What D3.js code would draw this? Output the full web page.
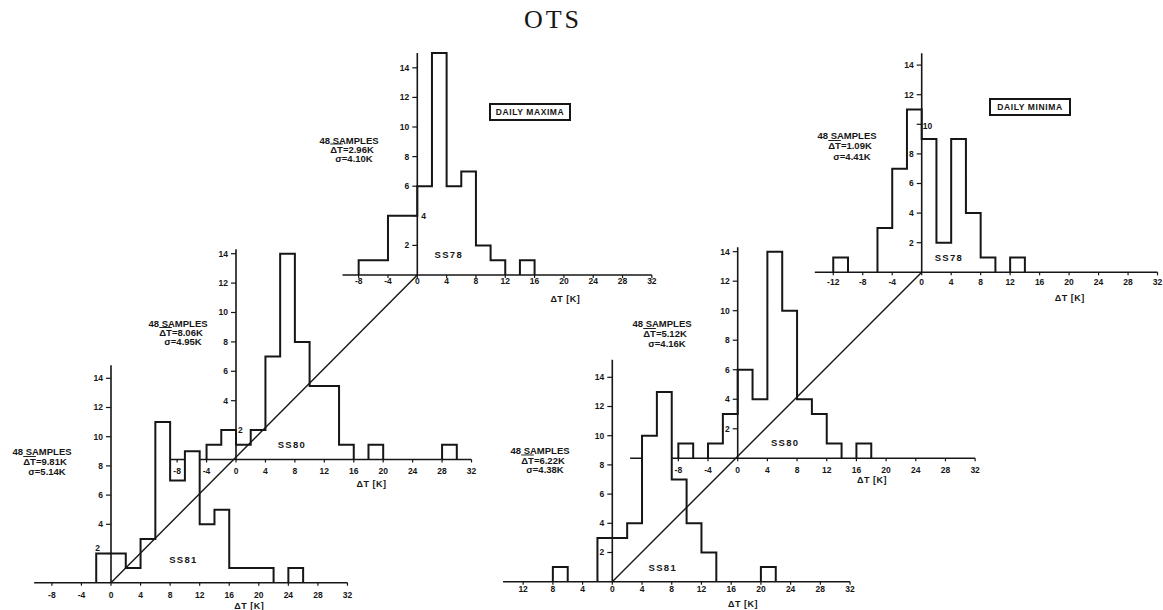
<!DOCTYPE html>
<html>
<head>
<meta charset="utf-8">
<script src="https://cdn.jsdelivr.net/npm/d3@7"></script>
<style>
  body { margin: 0; background: #fff; }
  text { font-family: 'Liberation Sans', Arial, sans-serif; font-weight: bold; fill: #161616; }
</style>
</head>
<body>
<svg id="chart" width="1163" height="610"></svg>
<script>
// histogram counts, bins 2 K wide
const binWidth = 2

// daily maxima
const maxSS78Start = -8
const maxSS78 = [1, 1, 4, 4, 6, 15, 6, 7, 2, 1, 0, 1]
const maxSS80Start = -4
const maxSS80 = [1, 2, 1, 2, 7, 14, 8, 5, 5, 1, 0, 1, 0, 0, 0, 0, 1]
const maxSS81Start = -2
const maxSS81 = [2, 2, 1, 3, 11, 7, 9, 4, 5, 1, 1, 1, 0, 1]

// daily minima
const minSS78Start = -12
const minSS78 = [1, 0, 0, 3, 7, 11, 9, 2, 9, 4, 1, 0, 1]
const minSS80Start = -8
const minSS80 = [1, 0, 1, 3, 6, 4, 14, 10, 4, 3, 1, 0, 1]
const minSS81Start = -8
const minSS81 = [1, 0, 0, 3, 3, 4, 10, 13, 7, 4, 2, 0, 0, 0, 1]

const panelNames = ['SS78', 'SS80', 'SS81']
const maxStats = [
    ['48 SAMPLES', '2.96', '4.10'],
    ['48 SAMPLES', '8.06', '4.95'],
    ['48 SAMPLES', '9.81', '5.14']
]
const minStats = [
    ['48 SAMPLES', '1.09', '4.41'],
    ['48 SAMPLES', '5.12', '4.16'],
    ['48 SAMPLES', '6.22', '4.38']
]
const xTicks = [-8, -4, 0, 4, 8, 12, 16, 20, 24, 28, 32]
const xTicksWide = [-12, -8, -4, 0, 4, 8, 12, 16, 20, 24, 28, 32]
const yTicks = [2, 4, 6, 8, 10, 12, 14]

// layout of each small histogram (pixel placement, not data)
const maxLayout = [
    { ox: 417.3, oy: 275, kx: 7.33, ky: 14.8, xFrom: -10.2, yTop: 15, tickY: 9, dtX: 20.2, dtY: 27, nameX: 4.3, nameY: 1.4, sx: 349, sy: 143.5, lineGap: 9, special: { v: 4, side: 'right', dx: 4, dy: 0 } },
    { ox: 236, oy: 459.5, kx: 7.36, ky: 14.7, xFrom: -11, yTop: 14.3, tickY: 14, dtX: 18.4, dtY: 27.5, nameX: 7.6, nameY: 1.0, sx: 178, sy: 327, lineGap: 9, special: { v: 2, side: 'right', dx: 2, dy: 0 } },
    { ox: 111, oy: 582.7, kx: 7.39, ky: 14.6, xFrom: -10.4, yTop: 14.9, tickY: 15.5, dtX: 18.7, dtY: 26.3, nameX: 9.8, nameY: 1.55, sx: 42, sy: 455, lineGap: 10, special: { v: 2, side: 'left', dx: -11, dy: -5.5 } }
]
const minLayout = [
    { ox: 921.7, oy: 272.3, kx: 7.37, ky: 14.8, xFrom: -14.5, yTop: 14.8, tickY: 12.7, dtX: 20.1, dtY: 28.7, nameX: 3.7, nameY: 1.0, sx: 847, sy: 138.5, lineGap: 10.5, special: { v: 10, side: 'right', dx: 1, dy: 2 } },
    { ox: 737.7, oy: 458.3, kx: 7.42, ky: 14.76, xFrom: -14.5, yTop: 14.3, tickY: 15, dtX: 18.1, dtY: 25, nameX: 6.4, nameY: 1.05, sx: 662, sy: 327, lineGap: 10, special: null },
    { ox: 612.3, oy: 581.7, kx: 7.43, ky: 14.6, xFrom: -14.7, yTop: 15.2, tickY: 10, dtX: 17.6, dtY: 25.3, nameX: 6.8, nameY: 0.95, sx: 540, sy: 454, lineGap: 9.5, special: null }
]

const svg = d3.select('#chart')
const ink = '#161616'

// 标题
svg.append('text')
    .text('OTS')
    .attr('x', 553)
    .attr('y', 28)
    .attr('text-anchor', 'middle')
    .style('font-family', "'Liberation Serif', 'DejaVu Serif', serif")
    .style('font-weight', 'normal')
    .style('font-size', '26px')
    .style('letter-spacing', '3px')

// split counts into runs of non-empty bins -> step outline points
function stepRuns(counts, start) {
    const out = []
    let cur = null
    counts.forEach((c, i) => {
        const x0 = start + i * binWidth
        if (c > 0) {
            if (!cur) {
                cur = [[x0, 0]]
                out.push(cur)
            }
            cur.push([x0, c], [x0 + binWidth, c])
        } else if (cur) {
            cur.push([x0, 0])
            cur = null
        }
    })
    if (cur) cur.push([start + counts.length * binWidth, 0])
    return out
}

function drawPanel(p, counts, start, ticks, name, stats, fmt) {
    const x = d3.scaleLinear().domain([0, 1]).range([p.ox, p.ox + p.kx])
    const y = d3.scaleLinear().domain([0, 1]).range([p.oy, p.oy - p.ky])
    const g = svg.append('g')
    const line = d3.line().x((d) => x(d[0])).y((d) => y(d[1]))
    const runs = stepRuns(counts, start)

    // white fill hides whatever lies behind this panel
    g.selectAll('.fill').data(runs).enter()
        .append('path')
        .attr('d', (d) => line(d) + 'Z')
        .attr('fill', '#fff')
        .attr('stroke', 'none')

    // x axis
    g.append('line')
        .attr('x1', x(p.xFrom)).attr('x2', x(32))
        .attr('y1', y(0)).attr('y2', y(0))
        .attr('stroke', ink).attr('stroke-width', 1.6)
    g.selectAll('.xt').data(ticks).enter()
        .append('line')
        .attr('x1', (d) => x(d)).attr('x2', (d) => x(d))
        .attr('y1', y(0)).attr('y2', y(0) + 3)
        .attr('stroke', ink).attr('stroke-width', 1.2)
    g.selectAll('.xl').data(ticks).enter()
        .append('text')
        .text(fmt)
        .attr('x', (d) => x(d))
        .attr('y', y(0) + p.tickY)
        .attr('text-anchor', 'middle')
        .style('font-size', '8.5px')
    g.append('text')
        .text('ΔT [K]')
        .attr('x', x(p.dtX))
        .attr('y', y(0) + p.dtY)
        .attr('text-anchor', 'middle')
        .style('font-size', '9px')
        .style('letter-spacing', '0.5px')

    // y axis
    g.append('line')
        .attr('x1', x(0)).attr('x2', x(0))
        .attr('y1', y(0)).attr('y2', y(p.yTop))
        .attr('stroke', ink).attr('stroke-width', 1.6)
    g.selectAll('.yt').data(yTicks).enter()
        .append('line')
        .attr('x1', x(0) - 5).attr('x2', x(0))
        .attr('y1', (d) => y(d)).attr('y2', (d) => y(d))
        .attr('stroke', ink).attr('stroke-width', 1.2)
    g.selectAll('.yl').data(yTicks).enter()
        .append('text')
        .text((d) => d)
        .attr('x', (d) => {
            if (p.special && p.special.v === d) return x(0) + p.special.dx
            return x(0) - 8
        })
        .attr('y', (d) => (p.special && p.special.v === d ? y(d) + p.special.dy : y(d)))
        .attr('dy', '0.35em')
        .attr('text-anchor', (d) => (p.special && p.special.v === d && p.special.side === 'right' ? 'start' : 'end'))
        .style('font-size', '8.5px')

    // outline
    g.selectAll('.bar').data(runs).enter()
        .append('path')
        .attr('d', line)
        .attr('fill', 'none')
        .attr('stroke', ink)
        .attr('stroke-width', 2)
        .attr('stroke-linejoin', 'miter')

    // station name
    g.append('text')
        .text(name)
        .attr('x', x(p.nameX))
        .attr('y', y(p.nameY))
        .attr('dy', '0.35em')
        .attr('text-anchor', 'middle')
        .style('font-size', '9.5px')
        .style('letter-spacing', '1.3px')

    // samples / mean / sigma
    const st = svg.append('g').attr('transform', `translate(${p.sx},${p.sy})`)
    st.append('text').text(stats[0]).attr('text-anchor', 'middle').style('font-size', '9.5px')
    const t2 = st.append('text').attr('y', p.lineGap).attr('x', 3).attr('text-anchor', 'middle').style('font-size', '9.5px')
    t2.append('tspan').text('ΔT').style('text-decoration', 'overline')
    t2.append('tspan').text(`=${stats[1]}K`)
    st.append('text').text(`σ=${stats[2]}K`).attr('x', 5).attr('y', p.lineGap * 2).attr('text-anchor', 'middle').style('font-size', '9.5px')

    return { x, y }
}

function drawChart(layout, series, starts, tickSets, stats, fmts, boxText, box) {
    const origins = []
    // back to front
    layout.forEach((p, i) => {
        const s = drawPanel(p, series[i], starts[i], tickSets[i], panelNames[i], stats[i], fmts[i])
        origins.push([s.x(0), s.y(0)])
    })
    // diagonal through the three origins
    svg.append('line')
        .attr('x1', origins[2][0]).attr('y1', origins[2][1])
        .attr('x2', origins[0][0]).attr('y2', origins[0][1])
        .attr('stroke', ink).attr('stroke-width', 1.4)

    const bg = svg.append('g').attr('transform', `translate(${box[0]},${box[1]})`)
    bg.append('rect').attr('width', box[2]).attr('height', box[3])
        .attr('fill', '#fff').attr('stroke', ink).attr('stroke-width', 2)
    bg.append('text').text(boxText)
        .attr('x', box[2] / 2).attr('y', box[3] / 2).attr('dy', '0.36em')
        .attr('text-anchor', 'middle')
        .style('font-size', '8.5px')
        .style('letter-spacing', '0.6px')
}

const plain = (d) => d
const unsigned = (d) => Math.abs(d)

drawChart(maxLayout, [maxSS78, maxSS80, maxSS81], [maxSS78Start, maxSS80Start, maxSS81Start],
    [xTicks, xTicks, xTicks], maxStats, [plain, plain, plain], 'DAILY MAXIMA', [490, 104, 80, 16])
drawChart(minLayout, [minSS78, minSS80, minSS81], [minSS78Start, minSS80Start, minSS81Start],
    [xTicksWide, xTicks, xTicksWide], minStats, [plain, plain, unsigned], 'DAILY MINIMA', [990, 99, 80, 16])
</script>
</body>
</html>
